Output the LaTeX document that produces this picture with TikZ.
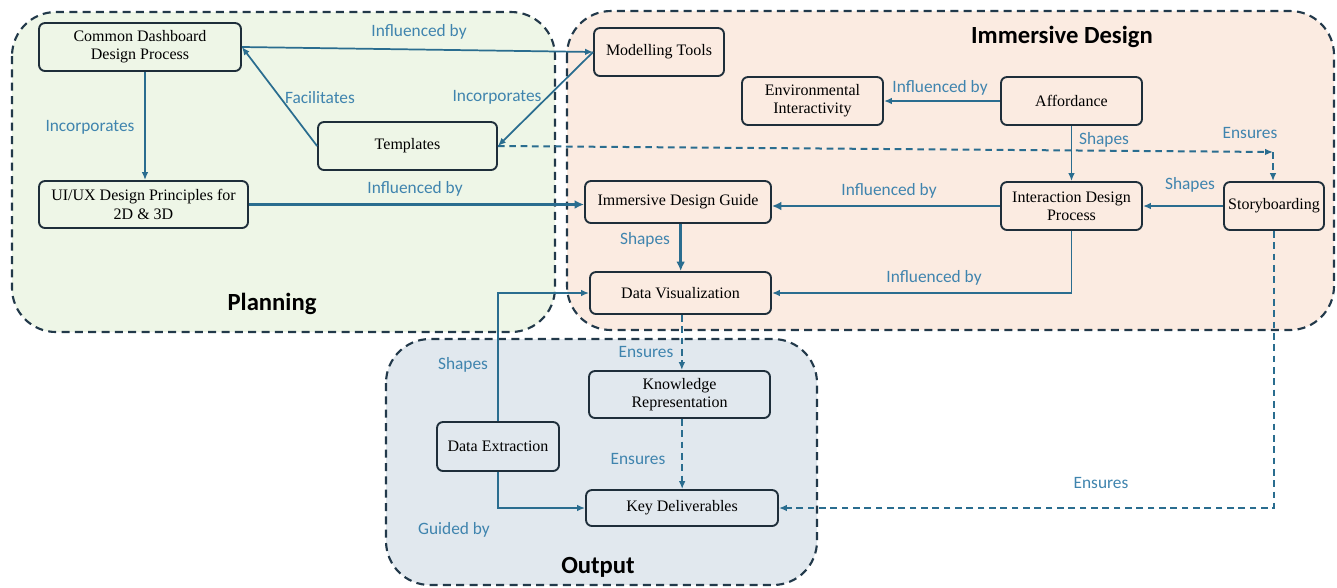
\documentclass[tikz,border=0pt]{standalone}
\usepackage{fontspec}
\setmainfont{Liberation Serif}
\newfontfamily\labfont{Carlito}
\usetikzlibrary{arrows.meta}
\definecolor{grpline}{HTML}{22394A}
\definecolor{plangreen}{HTML}{EEF6E7}
\definecolor{immpink}{HTML}{FBEBE1}
\definecolor{outblue}{HTML}{E1E8EE}
\definecolor{arr}{HTML}{2A6D8F}
\definecolor{labc}{HTML}{3F84AE}
\definecolor{boxline}{HTML}{1E2E3A}
\tikzset{
  grp/.style={draw=grpline, line width=1.6pt, dash pattern=on 6pt off 4pt, rounded corners=33pt},
  box/.style={draw=boxline, line width=1.4pt, rounded corners=4.5pt, align=center, inner sep=2pt,
              font=\fontsize{12}{13.7}\selectfont},
  conn/.style={draw=arr, line width=1.3pt, -{Latex[length=6pt,width=5pt]}},
  thickconn/.style={draw=arr, line width=2.2pt, -{Latex[length=7pt,width=6.5pt]}},
  dconn/.style={conn, line width=1.5pt, dash pattern=on 5pt off 3.5pt},
  lab/.style={text=labc, font=\labfont\fontsize{13}{15}\selectfont, inner sep=0pt},
  ttl/.style={text=black, font=\labfont\bfseries\fontsize{18.5}{20}\selectfont, inner sep=0pt}
}
\begin{document}
\begin{tikzpicture}[x=0.75pt,y=-0.75pt]
\useasboundingbox (0,0) rectangle (1337,587);
% groups
\draw[grp, fill=plangreen] (12,12) rectangle (555,332);
\draw[grp, fill=immpink] (567,11) rectangle (1334,330);
\draw[grp, fill=outblue] (386,339) rectangle (817,585);
\node[ttl] (tplan) at (272,304) {Planning};
\node[ttl] (timm) at (1062,37) {Immersive Design};
\node[ttl] (tout) at (598,567) {Output};
% boxes
\node[box, minimum width=151.5pt, minimum height=36pt] (cdp) at (140,47) {Common Dashboard\\Design Process};
\node[box, minimum width=156.75pt, minimum height=35.25pt] (uiux) at (143.5,204.5) {UI/UX Design Principles for\\2D \& 3D};
\node[box, minimum width=134.25pt, minimum height=36pt] (tmpl) at (407.5,146) {Templates};
\node[box, minimum width=97.5pt, minimum height=36pt] (mod) at (659,52) {Modelling Tools};
\node[box, minimum width=105.75pt, minimum height=36pt] (env) at (812.5,101) {Environmental\\Interactivity};
\node[box, minimum width=105.75pt, minimum height=36pt] (aff) at (1071.5,101) {Affordance};
\node[box, minimum width=105.75pt, minimum height=36pt] (idp) at (1071.5,206) {Interaction Design\\Process};
\node[box, minimum width=75pt, minimum height=36pt, inner sep=1pt] (story) at (1274,206) {Storyboarding};
\node[box, minimum width=139.5pt, minimum height=31.5pt] (idg) at (678,202) {Immersive Design Guide};
\node[box, minimum width=135.75pt, minimum height=31.5pt] (dv) at (680.5,293) {Data Visualization};
\node[box, minimum width=135.75pt, minimum height=35.25pt] (kr) at (679.5,394.5) {Knowledge\\Representation};
\node[box, minimum width=91.5pt, minimum height=36.75pt] (de) at (498,446.5) {Data Extraction};
\node[box, minimum width=144pt, minimum height=27pt] (kd) at (682,508) {Key Deliverables};
\coordinate (ens) at (1273,152);
% connectors
\draw[conn] (cdp.east) -- (mod.west);
\draw[conn] (mod.west) -- (tmpl.east);
\draw[conn] (tmpl.west) -- (cdp.east);
\draw[conn] ([xshift=3.75pt]cdp.south) -- ([xshift=3.75pt]cdp.south |- uiux.north);
\draw[thickconn] (uiux.east) -- (uiux.east -| idg.west);
\draw[conn] (aff.west) -- (env.east);
\draw[conn] (aff.south) -- (idp.north);
\draw[conn] (story.west) -- (idp.east);
\draw[thickconn] (idp.west) -- (idp.west -| idg.east);
\draw[thickconn] ([xshift=2pt]idg.south) -- ([xshift=2pt]idg.south |- dv.north);
\draw[conn] (idp.south) |- (dv.east);
\draw[conn] (de.north) |- (dv.west);
\draw[conn] (de.south) |- (kd.west);
\draw[dconn] ([xshift=1pt]dv.south) -- ([xshift=1pt]dv.south |- kr.north);
\draw[dconn] ([xshift=2pt]kr.south) -- ([xshift=2pt]kr.south |- kd.north);
\draw[dconn] (story.south) |- (kd.east);
\draw[dconn] (tmpl.east) -- (ens);
\draw[dconn] (ens) -- (ens |- story.north);
% labels
\node[lab] (l1) at (419,32) {Influenced by};
\node[lab] (l2) at (90,127) {Incorporates};
\node[lab] (l3) at (320,98) {Facilitates};
\node[lab] (l4) at (497,97) {Incorporates};
\node[lab] (l5) at (415,189) {Influenced by};
\node[lab] (l6) at (940,88) {Influenced by};
\node[lab] (l7) at (1104,140) {Shapes};
\node[lab] (l8) at (1250,133) {Ensures};
\node[lab] (l9) at (1190,185) {Shapes};
\node[lab] (l10) at (889,191) {Influenced by};
\node[lab] (l11) at (645,240) {Shapes};
\node[lab] (l12) at (934,278) {Influenced by};
\node[lab] (l13) at (463,365) {Shapes};
\node[lab] (l14) at (646,352) {Ensures};
\node[lab] (l15) at (638,459) {Ensures};
\node[lab] (l16) at (454,530) {Guided by};
\node[lab] (l17) at (1101,483) {Ensures};
\end{tikzpicture}
\end{document}
